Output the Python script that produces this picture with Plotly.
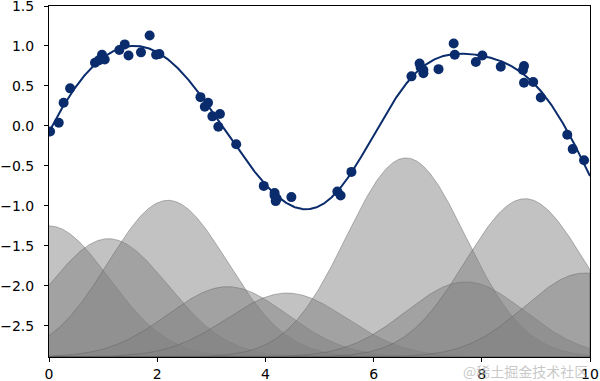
import numpy as np
import plotly.graph_objects as go

# ---- data ----
# scattered observations
x_pts = [0.02, 0.18, 0.27, 0.39, 0.85, 0.92, 0.98, 1.03, 1.30, 1.40,
         1.47, 1.70, 1.86, 1.98, 2.04, 2.80, 2.88, 2.94, 3.02, 3.13,
         3.16, 3.46, 3.97, 4.17, 4.17, 4.19, 4.21, 4.48, 5.33, 5.39,
         5.59, 6.70, 6.85, 6.87, 6.92, 6.92, 7.20, 7.48, 7.50, 7.89,
         8.01, 8.35, 8.76, 8.78, 8.78, 8.95, 9.09, 9.58, 9.68, 9.89]
y_pts = [-0.07, 0.04, 0.29, 0.47, 0.79, 0.82, 0.89, 0.83, 0.95, 1.02,
         0.88, 0.92, 1.13, 0.89, 0.90, 0.36, 0.24, 0.29, 0.12, -0.01,
         0.15, -0.23, -0.75, -0.84, -0.87, -0.94, -0.91, -0.89, -0.82, -0.87,
         -0.575, 0.62, 0.78, 0.73, 0.66, 0.70, 0.71, 1.03, 0.89, 0.80,
         0.88, 0.74, 0.70, 0.75, 0.54, 0.55, 0.355, -0.11, -0.29, -0.43]

# Gaussian basis functions: centres, common width, weights, intercept
centers = [0.0, 1.1, 2.2, 3.3, 4.4, 5.5, 6.6, 7.7, 8.8, 9.9]
width = 1.1
weights = [1.64, 1.48, 1.96, 0.88, 0.80, -0.07, 2.49, 0.94, 1.98, 1.05]
intercept = -2.89

x_range = [0, 10]
y_top = 1.5
y_ticks = [-2.5, -2.0, -1.5, -1.0, -0.5, 0.0, 0.5, 1.0, 1.5]
x_ticks = [0, 2, 4, 6, 8, 10]
watermark = "@稀土掘金技术社区"

NAVY = "#0b2c6c"

xfit = np.linspace(x_range[0], x_range[1], 1000)
basis = [np.exp(-0.5 * ((xfit - c) / width) ** 2) for c in centers]

fig = go.Figure()

# shaded basis functions (each from the intercept level)
for w, b in zip(weights, basis):
    yb = intercept + w * b
    xs = np.concatenate([xfit, [xfit[-1], xfit[0]]])
    ys = np.concatenate([yb, [intercept, intercept]])
    fig.add_trace(go.Scatter(
        x=xs, y=ys, mode="lines", fill="toself",
        fillcolor="rgba(128,128,128,0.48)",
        line=dict(color="rgba(95,95,95,0.55)", width=0.8),
        hoverinfo="skip", showlegend=False))

# data points
fig.add_trace(go.Scatter(
    x=x_pts, y=y_pts, mode="markers",
    marker=dict(color=NAVY, size=10, line=dict(width=0)),
    showlegend=False))

# model fit = intercept + sum of weighted bases
yfit = intercept + sum(w * b for w, b in zip(weights, basis))
fig.add_trace(go.Scatter(
    x=xfit, y=yfit, mode="lines",
    line=dict(color=NAVY, width=2), showlegend=False))

axis_common = dict(
    showline=True, linecolor="black", linewidth=1, mirror=True,
    ticks="outside", ticklen=4, tickwidth=1, tickcolor="black",
    showgrid=False, zeroline=False, automargin=False,
    ticklabeloverflow="allow",
    tickfont=dict(family="DejaVu Sans", size=14, color="black"),
)

fig.update_xaxes(range=x_range, tickvals=x_ticks,
                 ticktext=[str(t) for t in x_ticks],
                 ticklabelstandoff=0, **axis_common)
fig.update_yaxes(range=[intercept, y_top], tickvals=y_ticks,
                 tickformat=".1f", ticklabelstandoff=7, **axis_common)

fig.add_annotation(
    text=watermark, xref="paper", yref="paper",
    x=1.0, y=-0.006, xanchor="right", yanchor="top", showarrow=False,
    font=dict(family="Noto Sans CJK SC", size=14,
              color="rgba(175,175,175,0.7)"))

fig.update_layout(
    width=600, height=381,
    margin=dict(l=49, r=10, t=6, b=24),
    plot_bgcolor="white", paper_bgcolor="white",
)

fig.write_html("out.html")
